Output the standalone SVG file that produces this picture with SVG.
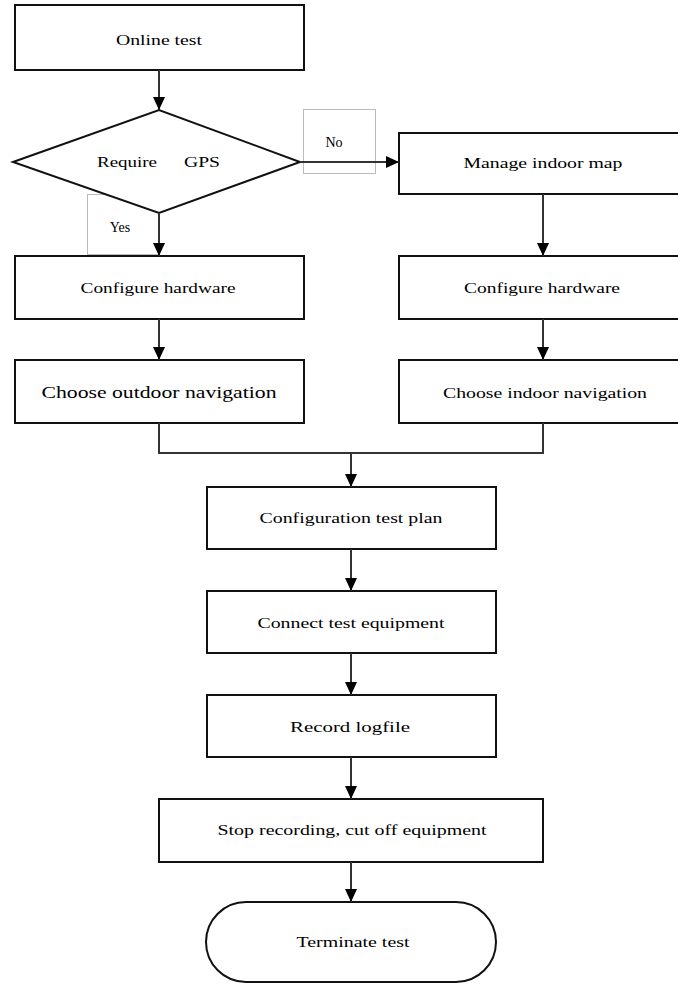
<svg xmlns="http://www.w3.org/2000/svg" width="678" height="984" viewBox="0 0 678 984">
<style>
.box{fill:#fff;stroke:#111;stroke-width:2}
.lbl{fill:#fff;stroke:#bbb;stroke-width:1}
.t{font-family:"Liberation Serif","Times New Roman",serif;font-size:14px;fill:#000;text-anchor:middle}
.big{font-size:16px}
.c{fill:none;stroke:#333;stroke-width:2}
</style>
<defs>
<marker id="ah" viewBox="0 0 13 12" refX="13" refY="6" markerWidth="13" markerHeight="12" markerUnits="userSpaceOnUse" orient="auto">
<path d="M0,0 L13,6 L0,12 z" fill="#000"/>
</marker>
</defs>
<rect width="678" height="984" fill="#fff"/>
<g id="labels">
<rect class="lbl" x="87.5" y="194.5" width="72" height="60"/>
<rect class="lbl" x="303.5" y="109.5" width="72" height="64"/>
</g>
<g id="n1"><rect class="box" x="15" y="5" width="289" height="65"/><text class="t" x="159" y="45" textLength="86" lengthAdjust="spacingAndGlyphs">Online test</text></g>
<g id="n2"><polygon class="box" points="13,162 159,110 300,162 159,213"/><text class="t" x="127" y="167" textLength="60" lengthAdjust="spacingAndGlyphs">Require</text><text class="t" x="202" y="167" textLength="36" lengthAdjust="spacingAndGlyphs">GPS</text></g>
<g id="lblNo"><text class="t" x="334" y="147">No</text></g>
<g id="lblYes"><text class="t" x="120" y="232">Yes</text></g>
<g id="n3"><rect class="box" x="399" y="133" width="280" height="61"/><text class="t" x="543" y="168" textLength="159" lengthAdjust="spacingAndGlyphs">Manage  indoor map</text></g>
<g id="n4"><rect class="box" x="15" y="256" width="289" height="63"/><text class="t" x="158" y="293" textLength="155" lengthAdjust="spacingAndGlyphs">Configure hardware</text></g>
<g id="n5"><rect class="box" x="399" y="256" width="280" height="63"/><text class="t" x="542" y="293" textLength="156" lengthAdjust="spacingAndGlyphs">Configure hardware</text></g>
<g id="n6"><rect class="box" x="15" y="360" width="289" height="63"/><text class="t big" x="159" y="398" textLength="235" lengthAdjust="spacingAndGlyphs">Choose outdoor navigation</text></g>
<g id="n7"><rect class="box" x="399" y="360" width="280" height="63"/><text class="t" x="545" y="398" textLength="204" lengthAdjust="spacingAndGlyphs">Choose indoor navigation</text></g>
<g id="n8"><rect class="box" x="207" y="487" width="289" height="62"/><text class="t" x="351" y="523" textLength="183" lengthAdjust="spacingAndGlyphs">Configuration test plan</text></g>
<g id="n9"><rect class="box" x="207" y="591" width="289" height="62"/><text class="t" x="351" y="628" textLength="187" lengthAdjust="spacingAndGlyphs">Connect test equipment</text></g>
<g id="n10"><rect class="box" x="207" y="695" width="289" height="62"/><text class="t" x="350" y="732" textLength="120" lengthAdjust="spacingAndGlyphs">Record  logfile</text></g>
<g id="n11"><rect class="box" x="159" y="799" width="384" height="63"/><text class="t" x="352" y="835" textLength="269" lengthAdjust="spacingAndGlyphs">Stop recording, cut off  equipment</text></g>
<g id="n12"><rect class="box" x="206" y="902" width="290" height="80" rx="40" ry="40"/><text class="t" x="353" y="947" textLength="113" lengthAdjust="spacingAndGlyphs">Terminate test</text></g>
<g id="connectors">
<line class="c" x1="159" y1="70" x2="159" y2="110" marker-end="url(#ah)"/>
<line class="c" x1="159" y1="213" x2="159" y2="256" marker-end="url(#ah)"/>
<line class="c" x1="159" y1="319" x2="159" y2="360" marker-end="url(#ah)"/>
<line class="c" x1="300" y1="162" x2="399" y2="162" marker-end="url(#ah)"/>
<line class="c" x1="543" y1="194" x2="543" y2="256" marker-end="url(#ah)"/>
<line class="c" x1="543" y1="319" x2="543" y2="360" marker-end="url(#ah)"/>
<polyline class="c" points="159,423 159,453 543,453 543,423"/>
<line class="c" x1="351" y1="453" x2="351" y2="487" marker-end="url(#ah)"/>
<line class="c" x1="351" y1="549" x2="351" y2="591" marker-end="url(#ah)"/>
<line class="c" x1="351" y1="653" x2="351" y2="695" marker-end="url(#ah)"/>
<line class="c" x1="351" y1="757" x2="351" y2="799" marker-end="url(#ah)"/>
<line class="c" x1="351" y1="862" x2="351" y2="902" marker-end="url(#ah)"/>
</g>
</svg>
